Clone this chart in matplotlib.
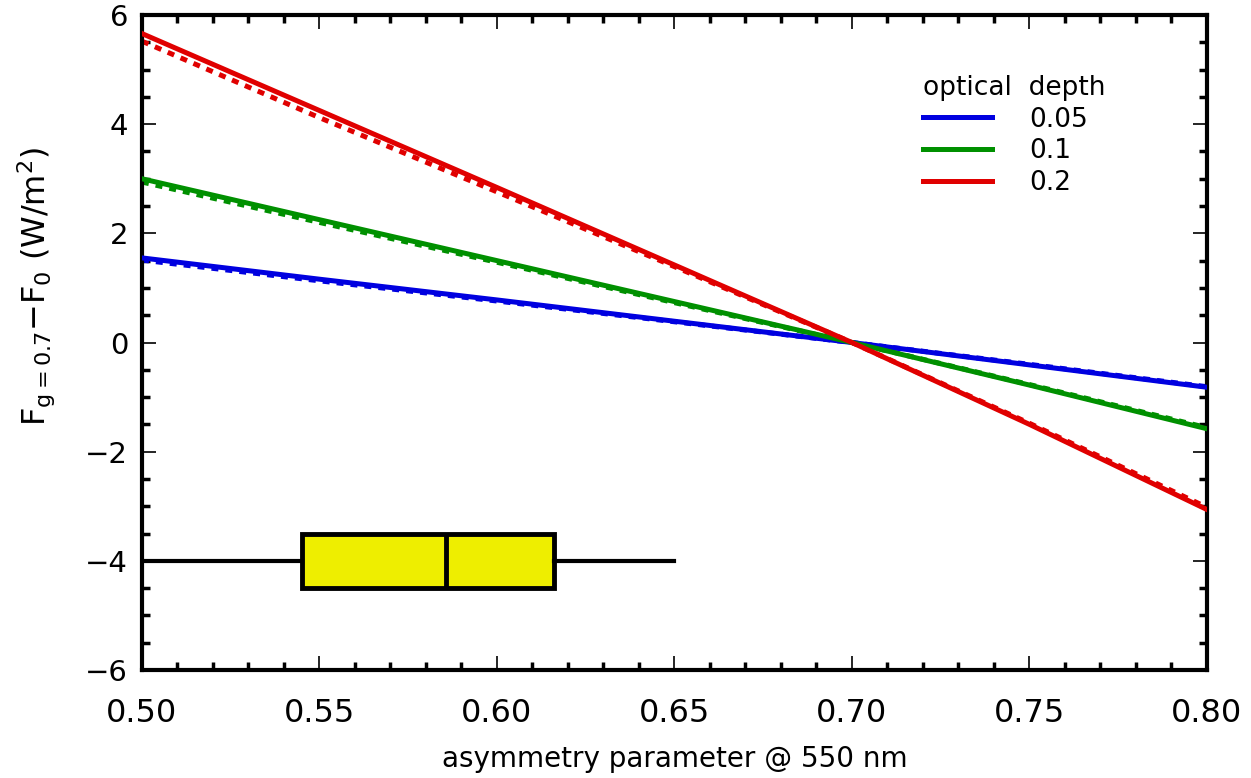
import numpy as np
import matplotlib
matplotlib.use("Agg")
import matplotlib.pyplot as plt
from matplotlib.ticker import MultipleLocator

# ------------------------------------------
# Data
# ------------------------------------------
g = [0.50, 0.55, 0.60, 0.65, 0.70, 0.75, 0.80]

blue_solid = [1.55, 1.16, 0.78, 0.39, 0.0, -0.41, -0.82]
green_solid = [3.00, 2.25, 1.50, 0.75, 0.0, -0.78, -1.58]
red_solid = [5.66, 4.25, 2.84, 1.42, 0.0, -1.50, -3.06]

blue_dash = [1.51, 1.13, 0.76, 0.38, 0.0, -0.40, -0.81]
green_dash = [2.94, 2.20, 1.47, 0.73, 0.0, -0.77, -1.56]
red_dash = [5.52, 4.12, 2.76, 1.39, 0.0, -1.48, -3.02]

depth_labels = ["0.05", "0.1", "0.2"]
colors = ["#0000e0", "#009000", "#e00000"]

# box plot of observed asymmetry parameter
box_stats = {"whislo": 0.49, "q1": 0.545, "med": 0.5855, "q3": 0.616, "whishi": 0.65}
box_y = -4.0

plt.rcParams["font.family"] = "DejaVu Sans"
plt.rcParams["mathtext.default"] = "regular"

fig = plt.figure(figsize=(12.51, 7.78), dpi=100)
ax = fig.add_axes([0.1135, 0.1388, 0.8513, 0.8419])

solids = [blue_solid, green_solid, red_solid]
dashes = [blue_dash, green_dash, red_dash]

for d, c in zip(dashes, colors):
    ax.plot(g, d, color=c, lw=3.6, ls=(0, (1.4, 1.4)), zorder=2)
for s, c, lab in zip(solids, colors, depth_labels):
    ax.plot(g, s, color=c, lw=3.6, label=lab, zorder=3)

bp = ax.bxp([box_stats], positions=[box_y], widths=[1.0], orientation="horizontal",
            showcaps=False, showfliers=False, patch_artist=True,
            boxprops=dict(facecolor="#eeee00", edgecolor="black", linewidth=3.5),
            whiskerprops=dict(color="black", linewidth=3),
            medianprops=dict(color="black", linewidth=3.5))

ax.set_xlim(0.50, 0.80)
ax.set_ylim(-6, 6)
ax.set_yticks([-6, -4, -2, 0, 2, 4, 6])
ax.set_yticklabels(["\u22126", "\u22124", "\u22122", "0", "2", "4", "6"])
ax.xaxis.set_major_locator(MultipleLocator(0.05))
ax.xaxis.set_minor_locator(MultipleLocator(0.01))
ax.yaxis.set_minor_locator(MultipleLocator(0.5))
ax.xaxis.set_major_formatter(matplotlib.ticker.FormatStrFormatter("%.2f"))

ax.tick_params(which="both", direction="in", top=True, right=True)
ax.tick_params(which="major", length=10, width=1.2)
ax.tick_params(which="minor", length=6, width=2.5)
ax.tick_params(axis="x", labelsize=23, pad=20)
ax.tick_params(axis="y", labelsize=21, pad=10)
for sp in ax.spines.values():
    sp.set_linewidth(3)

ax.set_xlabel("asymmetry parameter @ 550 nm", fontsize=20, labelpad=12)
ax.set_ylabel("F$_{g=0.7}$\u2212F$_0$ (W/m$^2$)", fontsize=23)
ax.yaxis.set_label_coords(-0.08, 0.585)

leg = ax.legend(title="optical  depth", loc="upper right", bbox_to_anchor=(0.915, 0.925),
                frameon=False, fontsize=19, title_fontsize=19, handlelength=2.6,
                handletextpad=1.4, labelspacing=0.22, borderaxespad=0)
leg._legend_box.align = "left"

fig.savefig("out.png", dpi=100)
